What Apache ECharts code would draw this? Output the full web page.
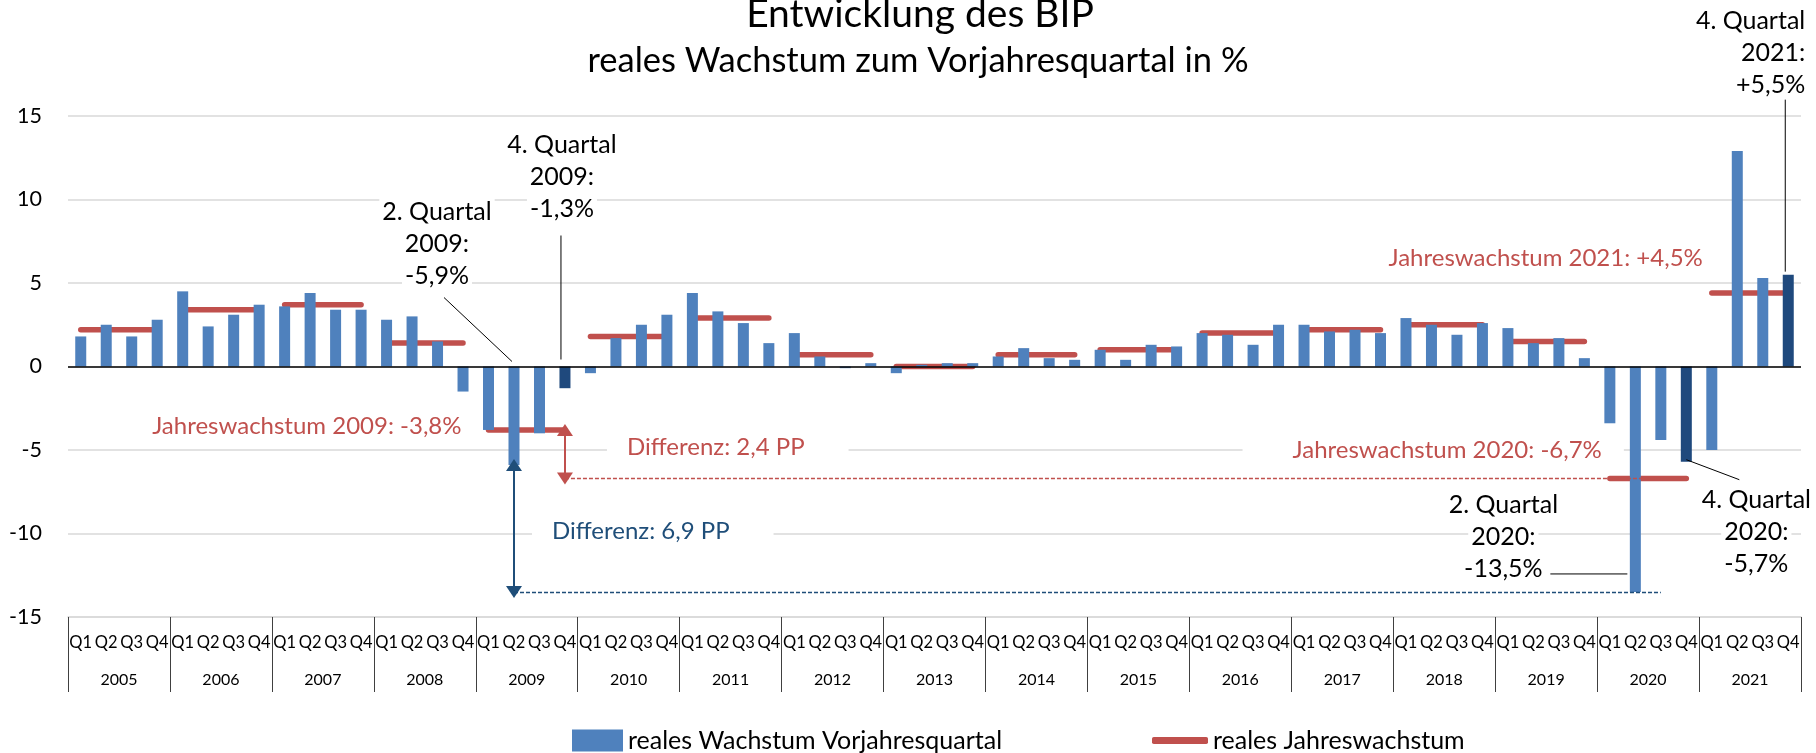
<!DOCTYPE html>
<html>
<head>
<meta charset="utf-8">
<title>Entwicklung des BIP</title>
<script src="https://cdn.jsdelivr.net/npm/echarts@6/dist/echarts.min.js"></script>
<style>
  html, body { margin: 0; padding: 0; background: #fff; }
  #chart { width: 1816px; height: 753px; }
</style>
</head>
<body>
<div id="chart"></div>
<script>
// Jahre (obere Ebene der Kategorieachse) und Quartale
var years = ['2005', '2006', '2007', '2008', '2009', '2010', '2011', '2012', '2013',
             '2014', '2015', '2016', '2017', '2018', '2019', '2020', '2021'];
var quarterNames = ['Q1', 'Q2', 'Q3', 'Q4'];

// reales Wachstum zum Vorjahresquartal in %, je Jahr Q1..Q4
var quarterGrowth = [
    1.8, 2.5, 1.8, 2.8,      // 2005
    4.5, 2.4, 3.1, 3.7,      // 2006
    3.6, 4.4, 3.4, 3.4,      // 2007
    2.8, 3.0, 1.5, -1.5,     // 2008
    -3.8, -5.9, -4.0, -1.3,  // 2009
    -0.4, 1.7, 2.5, 3.1,     // 2010
    4.4, 3.3, 2.6, 1.4,      // 2011
    2.0, 0.6, -0.1, 0.2,     // 2012
    -0.4, 0.1, 0.2, 0.2,     // 2013
    0.6, 1.1, 0.5, 0.4,      // 2014
    1.0, 0.4, 1.3, 1.2,      // 2015
    2.0, 1.9, 1.3, 2.5,      // 2016
    2.5, 2.1, 2.2, 2.0,      // 2017
    2.9, 2.5, 1.9, 2.6,      // 2018
    2.3, 1.4, 1.7, 0.5,      // 2019
    -3.4, -13.5, -4.4, -5.7, // 2020
    -5.0, 12.9, 5.3, 5.5     // 2021
];

// reales Jahreswachstum in %
var annualGrowth = [2.2, 3.4, 3.7, 1.4, -3.8, 1.8, 2.9, 0.7, 0.0, 0.7, 1.0, 2.0, 2.2, 2.5, 1.5, -6.7, 4.4];

// dunkel markierte Quartale (Index in quarterGrowth): Q4 2009, Q4 2020, Q4 2021
var highlighted = [19, 63, 67];

var BLUE = '#4F81BD';
var DARK = '#1F497D';
var RED = '#C0504D';
var NAVY = '#1F4E79';
var FONT = 'Lato, "Open Sans", sans-serif';

var quarterLabels = [];
years.forEach(function () {
    quarterNames.forEach(function (q) { quarterLabels.push(q); });
});

// Jahreslinie reicht von Q1 bis Q4 des jeweiligen Jahres
var annualItems = annualGrowth.map(function (v, y) {
    return [y * 4, y * 4 + 3, v];
});

var chart = echarts.init(document.getElementById('chart'));

var option = {
    animation: false,
    backgroundColor: '#fff',
    textStyle: { fontFamily: FONT },
    grid: {
        left: 68, right: 15, top: 116, bottom: 136,
        containLabel: false, outerBoundsMode: 'none'
    },
    legend: [{
        data: [{ name: 'reales Wachstum Vorjahresquartal', icon: 'rect', itemStyle: { color: BLUE } }],
        left: 572, top: 728, padding: 0,
        itemWidth: 51, itemHeight: 22,
        textStyle: { fontFamily: FONT, fontSize: 25, color: '#000' }
    }, {
        data: [{ name: 'reales Jahreswachstum', icon: 'roundRect', itemStyle: { color: RED } }],
        left: 1152, top: 728, padding: 0,
        itemWidth: 56, itemHeight: 7,
        textStyle: { fontFamily: FONT, fontSize: 25, color: '#000' }
    }],
    xAxis: [{
        type: 'category',
        data: quarterLabels,
        position: 'bottom',
        axisLine: { onZero: false, lineStyle: { color: '#d9d9d9', width: 1.5 } },
        axisTick: { show: false },
        axisLabel: { interval: 0, margin: 17, fontFamily: FONT, fontSize: 16.5, color: '#000' },
        splitLine: { show: false }
    }, {
        type: 'category',
        data: years,
        position: 'bottom',
        axisLine: { show: false, onZero: false },
        axisTick: { show: true, interval: 0, length: 75, lineStyle: { color: '#404040', width: 1 } },
        axisLabel: { interval: 0, margin: 55, fontFamily: FONT, fontSize: 16, color: '#000' },
        splitLine: { show: false }
    }],
    yAxis: {
        type: 'value',
        min: -15, max: 15, interval: 5,
        axisLine: { show: false },
        axisTick: { show: false },
        axisLabel: { margin: 26, fontFamily: FONT, fontSize: 21.5, color: '#000' },
        splitLine: { lineStyle: { color: '#d9d9d9', width: 1.5 } }
    },
    series: [{
        name: 'reales Wachstum Vorjahresquartal',
        type: 'bar',
        data: quarterGrowth,
        barWidth: 11,
        color: BLUE,
        itemStyle: {
            color: function (p) {
                return highlighted.indexOf(p.dataIndex) >= 0 ? DARK : BLUE;
            }
        },
        markLine: {
            silent: true,
            symbol: 'none',
            label: { show: false },
            data: [
                { yAxis: 0, lineStyle: { color: '#000', width: 1.6, type: 'solid' } },
                // Differenz Jahreswachstum 2009 vs. 2020
                [{ coord: [19, -3.8], symbol: 'triangle', symbolSize: [16, 12], lineStyle: { color: RED, width: 2, type: 'solid' } },
                 { coord: [19, -6.7], symbol: 'triangle', symbolSize: [16, 12] }],
                [{ coord: [19, -6.7], lineStyle: { color: RED, width: 1.3, type: [4, 2] } },
                 { coord: [62, -6.7] }],
                // Differenz Q2 2009 vs. Q2 2020
                [{ coord: [17, -5.9], symbol: 'triangle', symbolSize: [16, 12], lineStyle: { color: NAVY, width: 2, type: 'solid' } },
                 { coord: [17, -13.5], symbol: 'triangle', symbolSize: [16, 12] }],
                [{ coord: [17, -13.5], lineStyle: { color: NAVY, width: 1.3, type: [4, 2] } },
                 { coord: [62, -13.5] }]
            ]
        }
    }, {
        name: 'reales Jahreswachstum',
        type: 'custom',
        data: annualItems,
        encode: { x: [0, 1], y: 2 },
        itemStyle: { color: RED },
        renderItem: function (params, api) {
            var a = api.coord([api.value(0), api.value(2)]);
            var b = api.coord([api.value(1), api.value(2)]);
            return {
                type: 'line',
                shape: { x1: a[0], y1: a[1], x2: b[0], y2: b[1] },
                style: { stroke: RED, lineWidth: 5.5, lineCap: 'round' }
            };
        }
    }]
};

chart.setOption(option);

// Beschriftungen, verankert an Datenpunkten [Quartalsindex, Wert]
var notes = [
    { lines: ['2. Quartal', '2009:', '-5,9%'], at: [17, 0], dx: -77, dy: -123, align: 'center' },
    { lines: ['4. Quartal', '2009:', '-1,3%'], at: [19, 0], dx: -3, dy: -190, align: 'center' },
    { lines: ['2. Quartal', '2020:', '-13,5%'], at: [61, -10], dx: -132, dy: 3, align: 'center' },
    { lines: ['4. Quartal', '2020:', '-5,7%'], at: [63, -10], dx: 70, dy: -2, align: 'center' },
    { lines: ['4. Quartal', '2021:', '+5,5%'], at: [67, 15], dx: 20, dy: -63, align: 'right' }
];
var labels = [
    { text: 'Jahreswachstum 2009: -3,8%', color: RED, at: [16, -3.8], dx: -24, dy: -4, align: 'right', pad: [2, 3, 2, 3] },
    { text: 'Differenz: 2,4 PP', color: RED, at: [19, -5], dx: 42, dy: -3, align: 'left', pad: [4, 44, 4, 20] },
    { text: 'Differenz: 6,9 PP', color: NAVY, at: [17, -10], dx: 18, dy: -2, align: 'left', pad: [4, 44, 4, 20] },
    { text: 'Jahreswachstum 2020: -6,7%', color: RED, at: [60, -5], dx: 14, dy: 0, align: 'right', pad: [4, 22, 4, 50] },
    { text: 'Jahreswachstum 2021: +4,5%', color: RED, at: [64, 5], dx: -5, dy: -25, align: 'right', pad: [2, 4, 2, 4] }
];
var leaders = [
    { at: [17, 0], from: [-70, -69], to: [-2, -5] },
    { at: [19, 0], from: [-4, -131], to: [-4, -7] },
    { at: [61, -13.5], from: [-85, -18], to: [-8, -18] },
    { at: [63, -5.7], from: [0, -2], to: [53, 18] },
    { at: [67, 5.5], from: [-3, -175], to: [-3, -3] }
];

function pt(p) {
    return chart.convertToPixel({ xAxisIndex: 0, yAxisIndex: 0 }, p);
}

var graphics = [];

graphics.push({
    type: 'text', x: 920, y: 14, z: 100,
    style: { text: 'Entwicklung des BIP', fill: '#000', fontFamily: FONT, fontSize: 39, align: 'center', verticalAlign: 'middle' }
});
graphics.push({
    type: 'text', x: 918, y: 61, z: 100,
    style: { text: 'reales Wachstum zum Vorjahresquartal in %', fill: '#000', fontFamily: FONT, fontSize: 34.5, align: 'center', verticalAlign: 'middle' }
});

leaders.forEach(function (l) {
    var p = pt(l.at);
    graphics.push({
        type: 'line', z: 90, silent: true,
        shape: { x1: p[0] + l.from[0], y1: p[1] + l.from[1], x2: p[0] + l.to[0], y2: p[1] + l.to[1] },
        style: { stroke: '#000', lineWidth: 1 }
    });
});

notes.forEach(function (n) {
    var p = pt(n.at);
    graphics.push({
        type: 'text', x: p[0] + n.dx, y: p[1] + n.dy, z: 100,
        style: {
            text: n.lines.map(function (s) { return '{l|' + s + '}'; }).join('\n'),
            align: n.align, verticalAlign: 'middle',
            rich: {
                l: { fill: '#000', fontFamily: FONT, fontSize: 25, lineHeight: 32, backgroundColor: '#fff', padding: [0, 3] }
            }
        }
    });
});

labels.forEach(function (t) {
    var p = pt(t.at);
    graphics.push({
        type: 'text', x: p[0] + t.dx, y: p[1] + t.dy, z: 100,
        style: {
            text: t.text, fill: t.color, fontFamily: FONT, fontSize: 24,
            align: t.align, verticalAlign: 'middle',
            backgroundColor: '#fff', padding: t.pad
        }
    });
});

chart.setOption({ graphic: graphics });
</script>
</body>
</html>
